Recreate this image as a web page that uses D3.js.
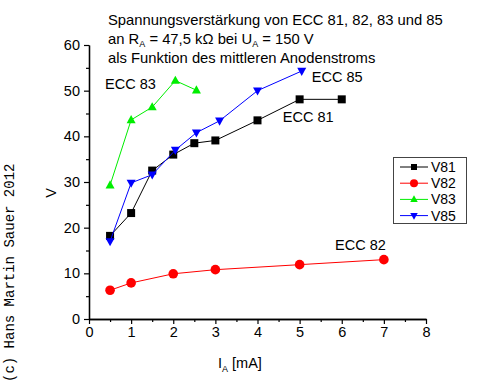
<!DOCTYPE html>
<html>
<head>
<meta charset="utf-8">
<script src="https://cdn.jsdelivr.net/npm/d3@7"></script>
<style>
  body { margin: 0; background: #fff; }
  text { font-family: "Liberation Sans", Arial, sans-serif; fill: #000; }
</style>
</head>
<body>
<div id="chart"></div>
<script>
// Daten
const v81 = [[0.5, 18.2], [1, 23.2], [1.5, 32.5], [2, 36], [2.5, 38.5], [3, 39.1], [4, 43.5], [5, 48.1], [6, 48.1]];
const v82 = [[0.5, 6.3], [1, 7.9], [2, 9.9], [3, 10.8], [5, 11.9], [7, 13]];
const v83 = [[0.5, 29.3], [1, 43.6], [1.5, 46.4], [2.05, 52.2], [2.55, 50.1]];
const v85 = [[0.5, 17.0], [1, 29.8], [1.5, 31.6], [2.05, 37], [2.55, 40.8], [3.1, 43.4], [4, 50], [5.05, 54.3]];

const seriesNames = ["V81", "V82", "V83", "V85"];
const seriesColors = ["#000000", "#ff0000", "#00ee00", "#0000ff"];
const seriesShapes = ["square", "circle", "up", "down"];

const xTicks = [0, 1, 2, 3, 4, 5, 6, 7, 8];
const yTicks = [0, 10, 20, 30, 40, 50, 60];

// Beschriftungen der Kurven (Datenkoordinaten)
const curveLabels = [
    { text: "ECC 83", x: 0.38, y: 50.4 },
    { text: "ECC 85", x: 5.29, y: 51.9 },
    { text: "ECC 81", x: 4.6, y: 43.1 },
    { text: "ECC 82", x: 5.84, y: 15.1 }
];

const w = 495, h = 383;
const svg = d3.select("#chart").append("svg")
    .attr("width", w).attr("height", h);

const x = d3.scaleLinear().domain([0, 8]).range([89, 426]);
const y = d3.scaleLinear().domain([0, 60]).range([319, 45]);

// Achsen
svg.append("g").attr("transform", "translate(0," + y(0) + ")")
    .call(d3.axisBottom(x).tickValues(xTicks).tickSize(5).tickSizeOuter(0).tickPadding(3).tickFormat(d3.format("d")));
svg.append("g").attr("transform", "translate(0," + y(0) + ")")
    .call(d3.axisBottom(x).tickValues(d3.range(0.5, 8, 1)).tickSize(3).tickSizeOuter(0).tickFormat(""));
svg.append("g").attr("transform", "translate(" + x(0) + ",0)")
    .call(d3.axisLeft(y).tickValues(yTicks).tickSize(5).tickSizeOuter(0).tickPadding(4).tickFormat(d3.format("d")));
svg.append("g").attr("transform", "translate(" + x(0) + ",0)")
    .call(d3.axisLeft(y).tickValues(d3.range(5, 60, 10)).tickSize(3).tickSizeOuter(0).tickFormat(""));

svg.selectAll(".domain").attr("stroke", "#000").attr("stroke-width", 1.3);
svg.selectAll(".tick line").attr("stroke", "#000").attr("stroke-width", 1.2);
svg.selectAll(".tick text").style("font-size", "14.5px").attr("fill", "#000");

function marker(shape, s) {
    if (shape === "square") return "M" + (-s / 2) + "," + (-s / 2) + "h" + s + "v" + s + "h" + (-s) + "Z";
    if (shape === "circle") return d3.symbol(d3.symbolCircle, s * s * 0.9)();
    const hgt = s * 0.9;
    if (shape === "up") return "M0," + (-hgt * 0.6) + "L" + (s / 2) + "," + (hgt * 0.4) + "L" + (-s / 2) + "," + (hgt * 0.4) + "Z";
    return "M0," + (hgt * 0.6) + "L" + (s / 2) + "," + (-hgt * 0.4) + "L" + (-s / 2) + "," + (-hgt * 0.4) + "Z";
}

const allData = [v81, v82, v83, v85];
const line = d3.line().x(d => x(d[0])).y(d => y(d[1]));

allData.forEach(function (data, i) {
    svg.append("path").datum(data)
        .attr("d", line)
        .attr("fill", "none")
        .attr("stroke", seriesColors[i])
        .attr("stroke-width", 1);
    svg.selectAll(".m" + i).data(data).enter().append("path")
        .attr("class", "m" + i)
        .attr("d", marker(seriesShapes[i], i === 0 ? 8 : 9))
        .attr("transform", d => "translate(" + x(d[0]) + "," + y(d[1]) + ")")
        .attr("fill", seriesColors[i]);
});

svg.selectAll(".clabel").data(curveLabels).enter().append("text")
    .attr("class", "clabel")
    .attr("x", d => x(d.x)).attr("y", d => y(d.y))
    .style("font-size", "14.5px")
    .text(d => d.text);

// Titel
const title = svg.append("g").style("font-size", "14.8px");
title.append("text").attr("x", 108).attr("y", 25).text("Spannungsverstärkung von ECC 81, 82, 83 und 85");
const t2 = title.append("text").attr("x", 108).attr("y", 44);
t2.append("tspan").text("an R");
t2.append("tspan").attr("dy", 3).style("font-size", "9px").text("A");
t2.append("tspan").attr("dy", -3).text(" = 47,5 kΩ bei U");
t2.append("tspan").attr("dy", 3).style("font-size", "9px").text("A");
t2.append("tspan").attr("dy", -3).text(" = 150 V");
title.append("text").attr("x", 108).attr("y", 63).text("als Funktion des mittleren Anodenstroms");

// Achsenbeschriftungen
const xl = svg.append("text").attr("x", 218).attr("y", 368).style("font-size", "14.5px");
xl.append("tspan").text("I");
xl.append("tspan").attr("dy", 4).style("font-size", "9px").text("A");
xl.append("tspan").attr("dy", -4).text(" [mA]");

svg.append("text")
    .attr("transform", "translate(56,193)rotate(-90)")
    .attr("text-anchor", "middle")
    .style("font-size", "14.5px")
    .text("V");

svg.append("text")
    .attr("transform", "translate(14,382)rotate(-90)")
    .style("font-family", "'Liberation Mono', 'Courier New', monospace")
    .style("font-size", "14px")
    .text("(c) Hans Martin Sauer 2012");

// Legende
const legend = svg.append("g");
legend.append("rect")
    .attr("x", 393.5).attr("y", 157.5).attr("width", 73).attr("height", 66)
    .attr("fill", "#fff").attr("stroke", "#444").attr("stroke-width", 1);
seriesNames.forEach(function (name, i) {
    const ly = 167 + i * 16.2;
    legend.append("line")
        .attr("x1", 400).attr("x2", 428).attr("y1", ly).attr("y2", ly)
        .attr("stroke", seriesColors[i]).attr("stroke-width", 1);
    legend.append("path")
        .attr("d", marker(seriesShapes[i], i === 0 ? 6 : 7.5))
        .attr("transform", "translate(414," + ly + ")")
        .attr("fill", seriesColors[i]);
    legend.append("text")
        .attr("x", 431).attr("y", ly + 5)
        .style("font-size", "14px")
        .text(name);
});
</script>
</body>
</html>
